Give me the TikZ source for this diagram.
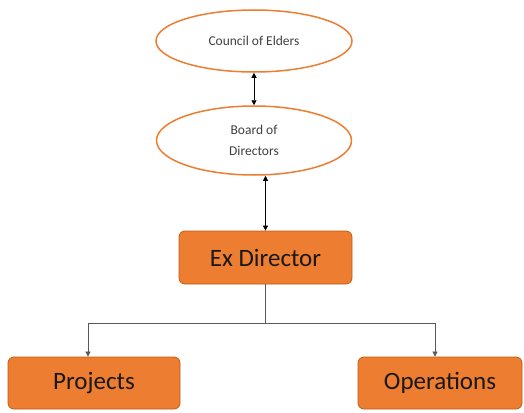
\documentclass[tikz,border=0pt]{standalone}
\usepackage{fontspec}
\setmainfont{Carlito}
\usetikzlibrary{shapes.geometric,arrows.meta}
\definecolor{orfill}{HTML}{ED7D31}
\definecolor{ordark}{HTML}{C55A11}
\definecolor{txtgray}{HTML}{404040}
\definecolor{linegray}{HTML}{595959}
\begin{document}
\begin{tikzpicture}[x=1pt,y=-1pt,
  oval/.style={ellipse,draw=orfill,line width=1.5pt,fill=white,text=txtgray,font=\fontsize{13.5}{21}\selectfont,align=center,inner sep=0pt},
  box/.style={rectangle,rounded corners=6pt,draw=ordark,line width=0.8pt,fill=orfill,text=black!90,font=\fontsize{25}{28}\selectfont,inner sep=0pt},
  conn/.style={draw=black,line width=0.9pt},
  arr/.style={-{Triangle[length=5pt,width=5pt]}},
  darr/.style={{Triangle[length=5pt,width=5pt]}-{Triangle[length=5pt,width=5pt]}}]
\useasboundingbox (0,0) rectangle (524,412);
\node[oval,minimum width=196pt,minimum height=62pt] (council) at (254,41) {Council of Elders};
\node[oval,minimum width=195pt,minimum height=69pt] (board) at (254,140.5) {Board of\\Directors};
\node[box,minimum width=173pt,minimum height=53pt] (exdir) at (265.5,257.5) {Ex Director};
\node[box,minimum width=172pt,minimum height=52pt] (proj) at (94,383) {Projects};
\node[box,minimum width=164pt,minimum height=52pt] (ops) at (440,383) {Operations};
\coordinate (j) at (265.5,323);
\coordinate (jl) at (88,323);
\coordinate (jr) at (435,323);
\draw[conn,darr] (council.south) -- (board.north);
\draw[conn,darr] (board.south -| exdir.north) -- (exdir.north);
\draw[conn,line width=0.7pt,draw=linegray] (exdir.south) -- (j);
\draw[conn,line width=0.7pt,draw=linegray,arr] (j) -- (jl) -- (jl |- proj.north);
\draw[conn,line width=0.7pt,draw=linegray,arr] (j) -- (jr) -- (jr |- ops.north);
\end{tikzpicture}
\end{document}
